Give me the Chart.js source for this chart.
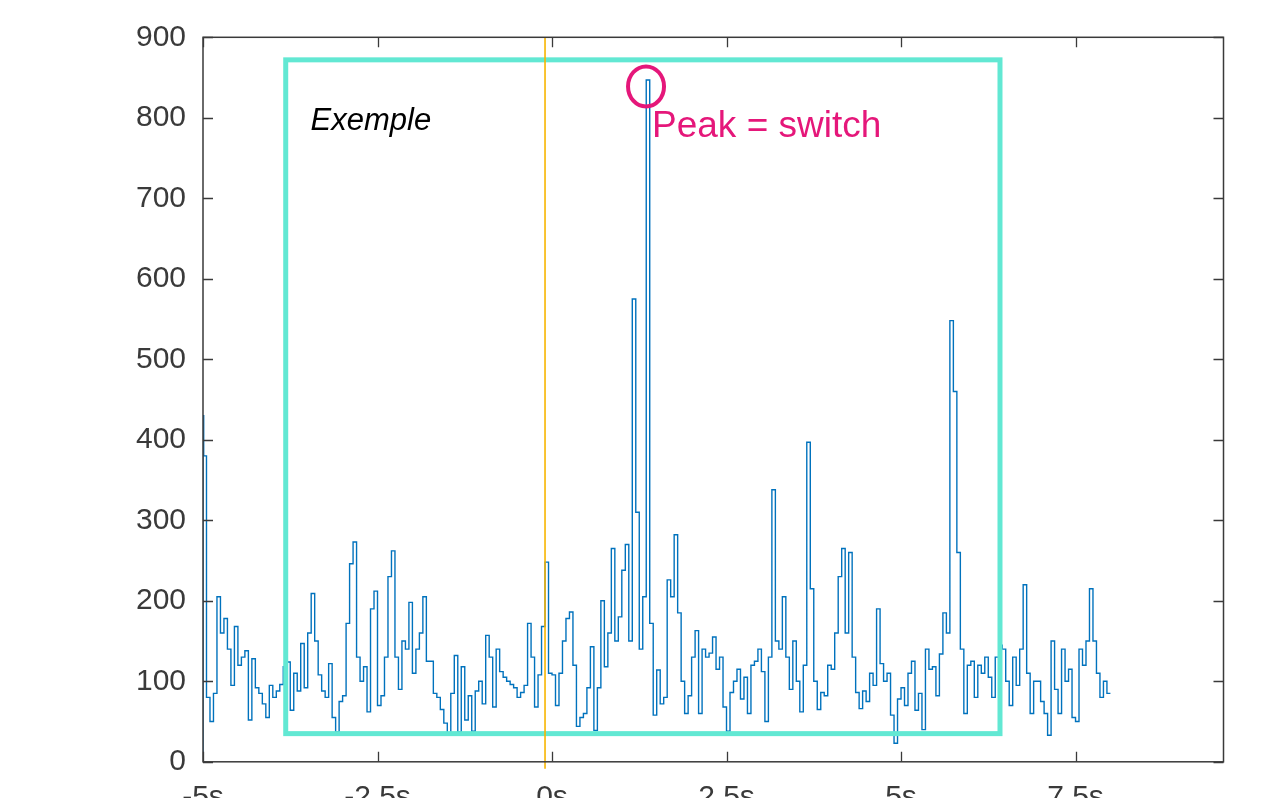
<!DOCTYPE html>
<html>
<head>
<meta charset="utf-8">
<script src="https://cdn.jsdelivr.net/npm/chart.js@4.4.1/dist/chart.umd.min.js"></script>
<style>
  html, body { margin:0; padding:0; background:#fff; overflow:hidden; }
  #wrap { width:1267px; height:840px; }
</style>
</head>
<body>
<div id="wrap"><canvas id="c" width="1267" height="840"></canvas></div>
<script>
// ---- data ----
const timeSec = [
  -5.00,-4.99,-4.95,-4.90,-4.85,-4.80,-4.75,-4.70,-4.65,-4.60,-4.55,-4.50,-4.45,-4.40,-4.35,-4.30,-4.25,-4.20,-4.15,-4.10,-4.05,
  -4.00,-3.95,-3.90,-3.85,-3.80,-3.75,-3.70,-3.65,-3.60,-3.55,-3.50,-3.45,-3.40,-3.35,-3.30,-3.25,-3.20,-3.15,-3.10,-3.05,
  -3.00,-2.95,-2.90,-2.85,-2.80,-2.75,-2.70,-2.65,-2.60,-2.55,-2.50,-2.45,-2.40,-2.35,-2.30,-2.25,-2.20,-2.15,-2.10,-2.05,
  -2.00,-1.95,-1.90,-1.85,-1.80,-1.75,-1.70,-1.65,-1.60,-1.55,-1.50,-1.45,-1.40,-1.35,-1.30,-1.25,-1.20,-1.15,-1.10,-1.05,
  -1.00,-0.95,-0.90,-0.85,-0.80,-0.75,-0.70,-0.65,-0.60,-0.55,-0.50,-0.45,-0.40,-0.35,-0.30,-0.25,-0.20,-0.15,-0.10,-0.05,
  0.00,0.05,0.10,0.15,0.20,0.25,0.30,0.35,0.40,0.45,0.50,0.55,0.60,0.65,0.70,0.75,0.80,0.85,0.90,0.95,
  1.00,1.05,1.10,1.15,1.20,1.25,1.30,1.35,1.40,1.45,1.50,1.55,1.60,1.65,1.70,1.75,1.80,1.85,1.90,1.95,
  2.00,2.05,2.10,2.15,2.20,2.25,2.30,2.35,2.40,2.45,2.50,2.55,2.60,2.65,2.70,2.75,2.80,2.85,2.90,2.95,
  3.00,3.05,3.10,3.15,3.20,3.25,3.30,3.35,3.40,3.45,3.50,3.55,3.60,3.65,3.70,3.75,3.80,3.85,3.90,3.95,
  4.00,4.05,4.10,4.15,4.20,4.25,4.30,4.35,4.40,4.45,4.50,4.55,4.60,4.65,4.70,4.75,4.80,4.85,4.90,4.95,
  5.00,5.05,5.10,5.15,5.20,5.25,5.30,5.35,5.40,5.45,5.50,5.55,5.60,5.65,5.70,5.75,5.80,5.85,5.90,5.95,
  6.00,6.05,6.10,6.15,6.20,6.25,6.30,6.35,6.40,6.45,6.50,6.55,6.60,6.65,6.70,6.75,6.80,6.85,6.90,6.95,
  7.00,7.05,7.10,7.15,7.20,7.25,7.30,7.35,7.40,7.45,7.50,7.55,7.60,7.65,7.70,7.75,7.80,7.85,7.90,7.95,
  8.00
];
const signalValues = [
  0,430,380,80,50,85,205,160,178,140,95,168,120,130,138,52,128,92,85,72,55,
  95,80,88,96,118,124,64,110,88,147,92,160,209,150,108,88,80,122,55,37,
  75,82,172,246,273,130,100,118,62,190,212,70,82,130,230,262,130,90,150,140,
  198,110,140,160,205,125,125,85,80,65,48,36,85,132,37,118,52,82,38,88,
  100,72,157,130,68,140,112,105,100,96,92,80,86,95,172,130,68,108,168,248,
  110,108,70,110,150,178,186,120,44,55,60,92,143,39,92,200,118,160,265,150,
  180,238,270,150,575,310,140,205,847,172,58,114,72,80,226,205,282,185,100,60,
  82,130,163,60,140,130,135,155,115,130,68,38,86,100,115,78,105,60,120,125,
  140,112,50,130,338,150,140,205,130,90,150,100,62,120,397,215,100,65,86,82,
  120,115,160,230,265,160,260,130,86,66,88,75,110,95,190,122,100,110,58,23,
  78,92,70,110,125,64,85,40,140,115,118,82,134,185,160,548,460,260,140,60,
  120,125,80,120,110,130,105,80,130,145,140,100,70,130,95,140,220,110,60,100,
  100,75,60,33,150,90,60,140,100,115,55,50,140,120,150,215,150,110,80,100,
  85
];
const xTickValues = [-5, -2.5, 0, 2.5, 5, 7.5];
const yTickValues = [0, 100, 200, 300, 400, 500, 600, 700, 800, 900];
const xRange = [-5, 9.62];
const yRange = [0, 900];

// annotation anchors (data units)
const markerTime = -0.1;                       // orange vertical line
const boxRegion = { x0: -3.815, x1: 6.418, y0: 35, y1: 872 };
const peakMark = { x: 1.347, y: 839 };
const exampleLabel = { text: 'Exemple', x: -3.43, y: 785 };
const peakLabel = 'Peak = switch';

const FONT = '"Liberation Sans", Arial, Helvetica, sans-serif';
const AXIS_COLOR = '#3a3a3a';

const points = timeSec.map((t, i) => ({ x: t, y: signalValues[i] }));

const decoPlugin = {
  id: 'deco',
  afterDatasetsDraw(chart) {
    const { ctx, chartArea: a, scales: { x, y } } = chart;
    ctx.save();
    // cyan rectangle
    ctx.strokeStyle = '#62E8D3';
    ctx.lineWidth = 5;
    ctx.lineJoin = 'miter';
    const rx0 = x.getPixelForValue(boxRegion.x0), rx1 = x.getPixelForValue(boxRegion.x1);
    const ry0 = y.getPixelForValue(boxRegion.y1), ry1 = y.getPixelForValue(boxRegion.y0);
    ctx.strokeRect(rx0, ry0, rx1 - rx0, ry1 - ry0);
    // orange marker line
    const mx = x.getPixelForValue(markerTime);
    ctx.strokeStyle = '#F7B500';
    ctx.lineWidth = 1.6;
    ctx.beginPath();
    ctx.moveTo(mx, a.top);
    ctx.lineTo(mx, a.bottom + 7);
    ctx.stroke();
    // peak circle
    const cx = x.getPixelForValue(peakMark.x), cy = y.getPixelForValue(peakMark.y);
    ctx.strokeStyle = '#E5177A';
    ctx.lineWidth = 4;
    ctx.beginPath();
    ctx.ellipse(cx, cy, 18, 20, 0, 0, Math.PI * 2);
    ctx.stroke();
    // peak label
    ctx.fillStyle = '#E5177A';
    ctx.font = '37px ' + FONT;
    ctx.textAlign = 'left';
    ctx.textBaseline = 'alphabetic';
    ctx.fillText(peakLabel, cx + 6, cy + 51);
    // Exemple label
    ctx.fillStyle = '#000';
    ctx.font = 'italic 31px ' + FONT;
    ctx.fillText(exampleLabel.text, x.getPixelForValue(exampleLabel.x) - 2, y.getPixelForValue(exampleLabel.y));
    ctx.restore();
  },
  afterDraw(chart) {
    const { ctx, chartArea: a, scales: { x, y } } = chart;
    ctx.save();
    ctx.strokeStyle = AXIS_COLOR;
    ctx.lineWidth = 1.5;
    ctx.strokeRect(a.left, a.top, a.right - a.left, a.bottom - a.top);
    ctx.lineWidth = 1.3;
    ctx.beginPath();
    const TL = 10;
    xTickValues.forEach(v => {
      const px = Math.round(x.getPixelForValue(v)) + 0.5;
      ctx.moveTo(px, a.bottom); ctx.lineTo(px, a.bottom - TL);
      ctx.moveTo(px, a.top); ctx.lineTo(px, a.top + TL);
    });
    yTickValues.forEach(v => {
      const py = Math.round(y.getPixelForValue(v)) + 0.5;
      ctx.moveTo(a.left, py); ctx.lineTo(a.left + TL, py);
      ctx.moveTo(a.right, py); ctx.lineTo(a.right - TL, py);
    });
    ctx.stroke();
    ctx.restore();
  }
};

new Chart(document.getElementById('c'), {
  type: 'line',
  data: {
    datasets: [{
      data: points,
      borderColor: '#0072BD',
      borderWidth: 1.4,
      pointRadius: 0,
      stepped: 'after',
      fill: false,
      tension: 0
    }]
  },
  options: {
    responsive: false,
    animation: false,
    devicePixelRatio: 1,
    layout: { padding: { left: 0, right: 43.5, top: 37.3, bottom: 0 } },
    plugins: { legend: { display: false }, tooltip: { enabled: false } },
    scales: {
      x: {
        type: 'linear',
        min: xRange[0], max: xRange[1],
        grid: { display: false, drawTicks: false },
        border: { display: false },
        afterBuildTicks: s => { s.ticks = xTickValues.map(v => ({ value: v })); },
        afterFit: s => { s.height = 840 - 761.8; },
        ticks: {
          color: AXIS_COLOR,
          font: { family: FONT, size: 30 },
          padding: 18,
          maxRotation: 0,
          autoSkip: false,
          callback: v => v + 's'
        }
      },
      y: {
        type: 'linear',
        min: yRange[0], max: yRange[1],
        grid: { display: false, drawTicks: false },
        border: { display: false },
        afterBuildTicks: s => { s.ticks = yTickValues.map(v => ({ value: v })); },
        afterFit: s => { s.width = 203; },
        ticks: {
          color: AXIS_COLOR,
          font: { family: FONT, size: 30 },
          padding: 17,
          autoSkip: false,
          callback: v => String(v)
        }
      }
    }
  },
  plugins: [decoPlugin]
});
</script>
</body>
</html>
